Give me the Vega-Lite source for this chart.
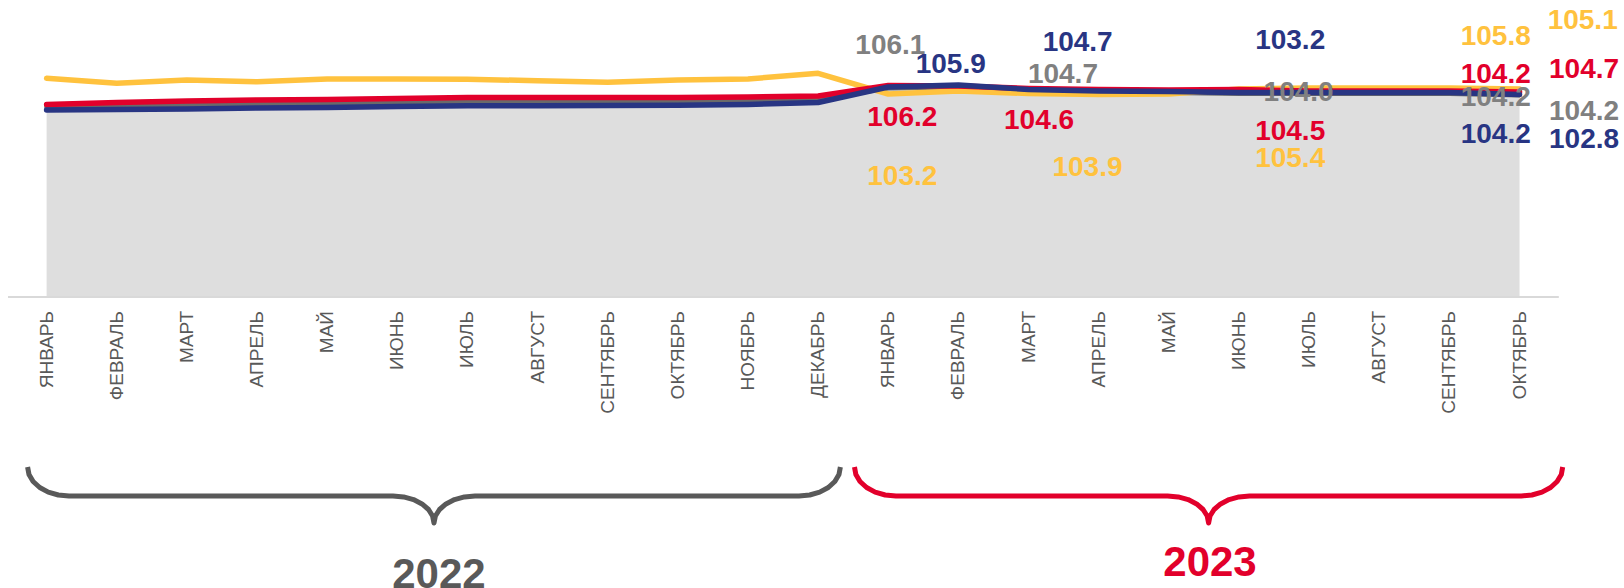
{
  "$schema": "https://vega.github.io/schema/vega-lite/v6.json",
  "width": 1624,
  "height": 588,
  "autosize": {"type": "none"},
  "padding": 0,
  "background": "white",
  "config": {"view": {"stroke": null}},
  "datasets": {
    "months": [
      {"i": 0, "month": "ЯНВАРЬ", "yellow": 109.35, "red": 96.25, "blue": 93.5, "gray": 95},
      {"i": 1, "month": "ФЕВРАЛЬ", "yellow": 106.85, "red": 97.25, "blue": 93.75, "gray": 95.5},
      {"i": 2, "month": "МАРТ", "yellow": 108.5, "red": 98, "blue": 94, "gray": 96},
      {"i": 3, "month": "АПРЕЛЬ", "yellow": 107.65, "red": 98.5, "blue": 94.5, "gray": 96.5},
      {"i": 4, "month": "МАЙ", "yellow": 109, "red": 98.75, "blue": 94.75, "gray": 96.75},
      {"i": 5, "month": "ИЮНЬ", "yellow": 109, "red": 99.25, "blue": 95.25, "gray": 97.25},
      {"i": 6, "month": "ИЮЛЬ", "yellow": 108.85, "red": 99.75, "blue": 95.65, "gray": 97.65},
      {"i": 7, "month": "АВГУСТ", "yellow": 108.15, "red": 99.75, "blue": 95.65, "gray": 97.65},
      {"i": 8, "month": "СЕНТЯБРЬ", "yellow": 107.35, "red": 99.75, "blue": 95.75, "gray": 97.75},
      {"i": 9, "month": "ОКТЯБРЬ", "yellow": 108.5, "red": 99.75, "blue": 95.85, "gray": 97.8},
      {"i": 10, "month": "НОЯБРЬ", "yellow": 109, "red": 100, "blue": 96.25, "gray": 98},
      {"i": 11, "month": "ДЕКАБРЬ", "yellow": 111.85, "red": 100.5, "blue": 97.25, "gray": 99},
      {"i": 12, "month": "ЯНВАРЬ", "yellow": 101.5, "red": 105.75, "blue": 105, "gray": 104.5},
      {"i": 13, "month": "ФЕВРАЛЬ", "yellow": 103, "red": 105.5, "blue": 106, "gray": 105},
      {"i": 14, "month": "МАРТ", "yellow": 101.75, "red": 104.25, "blue": 103.75, "gray": 103.25},
      {"i": 15, "month": "АПРЕЛЬ", "yellow": 101.25, "red": 103.75, "blue": 103, "gray": 102.5},
      {"i": 16, "month": "МАЙ", "yellow": 101.5, "red": 103.5, "blue": 102.75, "gray": 102.25},
      {"i": 17, "month": "ИЮНЬ", "yellow": 104, "red": 103.75, "blue": 102.25, "gray": 101.75},
      {"i": 18, "month": "ИЮЛЬ", "yellow": 104.5, "red": 103, "blue": 102.25, "gray": 101.75},
      {"i": 19, "month": "АВГУСТ", "yellow": 104.5, "red": 103, "blue": 102.25, "gray": 101.75},
      {"i": 20, "month": "СЕНТЯБРЬ", "yellow": 104.5, "red": 103, "blue": 102.25, "gray": 101.75},
      {"i": 21, "month": "ОКТЯБРЬ", "yellow": 104, "red": 102.5, "blue": 101.25, "gray": 101}
    ],
    "labels": [
      {"series": "gray", "x": 12.03, "y": 125.75, "label": "106.1"},
      {"series": "gray", "x": 14.49, "y": 111, "label": "104.7"},
      {"series": "gray", "x": 17.85, "y": 102.15, "label": "104.0"},
      {"series": "gray", "x": 20.66, "y": 99.35, "label": "104.2"},
      {"series": "gray", "x": 21.92, "y": 92.65, "label": "104.2"},
      {"series": "yellow", "x": 12.2, "y": 60.15, "label": "103.2"},
      {"series": "yellow", "x": 14.84, "y": 64.35, "label": "103.9"},
      {"series": "yellow", "x": 17.73, "y": 68.85, "label": "105.4"},
      {"series": "yellow", "x": 20.66, "y": 130.15, "label": "105.8"},
      {"series": "yellow", "x": 21.9, "y": 138.15, "label": "105.1"},
      {"series": "red", "x": 12.2, "y": 89.35, "label": "106.2"},
      {"series": "red", "x": 14.15, "y": 88.25, "label": "104.6"},
      {"series": "red", "x": 17.73, "y": 82.65, "label": "104.5"},
      {"series": "red", "x": 20.66, "y": 111, "label": "104.2"},
      {"series": "red", "x": 21.92, "y": 113.5, "label": "104.7"},
      {"series": "blue", "x": 12.89, "y": 116, "label": "105.9"},
      {"series": "blue", "x": 14.7, "y": 127, "label": "104.7"},
      {"series": "blue", "x": 17.73, "y": 128.15, "label": "103.2"},
      {"series": "blue", "x": 20.66, "y": 81.25, "label": "104.2"},
      {"series": "blue", "x": 21.92, "y": 78.5, "label": "102.8"}
    ],
    "braces": [
      {"year": "2022", "k": 1, "x": -0.271, "y": -85},
      {"year": "2022", "k": 2, "x": -0.251, "y": -88.75},
      {"year": "2022", "k": 3, "x": -0.192, "y": -92.25},
      {"year": "2022", "k": 4, "x": -0.098, "y": -95.25},
      {"year": "2022", "k": 5, "x": 0.024, "y": -97.55},
      {"year": "2022", "k": 6, "x": 0.167, "y": -99},
      {"year": "2022", "k": 7, "x": 0.319, "y": -99.5},
      {"year": "2022", "k": 8, "x": 4.939, "y": -99.5},
      {"year": "2022", "k": 9, "x": 5.09, "y": -99.95},
      {"year": "2022", "k": 10, "x": 5.231, "y": -101.3},
      {"year": "2022", "k": 11, "x": 5.352, "y": -103.45},
      {"year": "2022", "k": 12, "x": 5.445, "y": -106.25},
      {"year": "2022", "k": 13, "x": 5.503, "y": -109.5},
      {"year": "2022", "k": 14, "x": 5.523, "y": -113},
      {"year": "2022", "k": 15, "x": 5.543, "y": -109.5},
      {"year": "2022", "k": 16, "x": 5.602, "y": -106.25},
      {"year": "2022", "k": 17, "x": 5.694, "y": -103.45},
      {"year": "2022", "k": 18, "x": 5.816, "y": -101.3},
      {"year": "2022", "k": 19, "x": 5.957, "y": -99.95},
      {"year": "2022", "k": 20, "x": 6.108, "y": -99.5},
      {"year": "2022", "k": 21, "x": 10.727, "y": -99.5},
      {"year": "2022", "k": 22, "x": 10.88, "y": -99},
      {"year": "2022", "k": 23, "x": 11.022, "y": -97.55},
      {"year": "2022", "k": 24, "x": 11.145, "y": -95.25},
      {"year": "2022", "k": 25, "x": 11.238, "y": -92.25},
      {"year": "2022", "k": 26, "x": 11.297, "y": -88.75},
      {"year": "2022", "k": 27, "x": 11.317, "y": -85},
      {"year": "2023", "k": 1, "x": 11.518, "y": -85},
      {"year": "2023", "k": 2, "x": 11.538, "y": -88.75},
      {"year": "2023", "k": 3, "x": 11.597, "y": -92.25},
      {"year": "2023", "k": 4, "x": 11.691, "y": -95.25},
      {"year": "2023", "k": 5, "x": 11.813, "y": -97.55},
      {"year": "2023", "k": 6, "x": 11.956, "y": -99},
      {"year": "2023", "k": 7, "x": 12.109, "y": -99.5},
      {"year": "2023", "k": 8, "x": 15.982, "y": -99.5},
      {"year": "2023", "k": 9, "x": 16.134, "y": -99.95},
      {"year": "2023", "k": 10, "x": 16.275, "y": -101.3},
      {"year": "2023", "k": 11, "x": 16.396, "y": -103.45},
      {"year": "2023", "k": 12, "x": 16.488, "y": -106.25},
      {"year": "2023", "k": 13, "x": 16.547, "y": -109.5},
      {"year": "2023", "k": 14, "x": 16.567, "y": -113},
      {"year": "2023", "k": 15, "x": 16.587, "y": -109.5},
      {"year": "2023", "k": 16, "x": 16.645, "y": -106.25},
      {"year": "2023", "k": 17, "x": 16.738, "y": -103.45},
      {"year": "2023", "k": 18, "x": 16.859, "y": -101.3},
      {"year": "2023", "k": 19, "x": 17.0, "y": -99.95},
      {"year": "2023", "k": 20, "x": 17.151, "y": -99.5},
      {"year": "2023", "k": 21, "x": 21.025, "y": -99.5},
      {"year": "2023", "k": 22, "x": 21.177, "y": -99},
      {"year": "2023", "k": 23, "x": 21.32, "y": -97.55},
      {"year": "2023", "k": 24, "x": 21.443, "y": -95.25},
      {"year": "2023", "k": 25, "x": 21.536, "y": -92.25},
      {"year": "2023", "k": 26, "x": 21.596, "y": -88.75},
      {"year": "2023", "k": 27, "x": 21.615, "y": -85}
    ],
    "years": [
      {"year": "2022", "x": 5.594, "y": -138.75},
      {"year": "2023", "x": 16.587, "y": -133}
    ],
    "axisline": [
      {"x1": -0.55, "x2": 21.56, "y": 0}
    ]
  },
  "resolve": {"scale": {"color": "independent"}},
  "layer": [
    {
      "data": {"name": "months"},
      "mark": {"type": "area", "color": "#dedede"},
      "encoding": {
        "x": {"field": "i", "type": "quantitative", "scale": {"domain": [-0.6644, 22.4893], "nice": false, "zero": false}, "axis": null},
        "y": {"field": "gray", "type": "quantitative", "scale": {"domain": [-145.5, 148.5], "nice": false, "zero": false}, "axis": null}
      }
    },
    {
      "data": {"name": "axisline"},
      "mark": {"type": "rule", "color": "#d9d9d9", "strokeWidth": 2},
      "encoding": {
        "x": {"field": "x1", "type": "quantitative"},
        "x2": {"field": "x2"},
        "y": {"field": "y", "type": "quantitative"}
      }
    },
    {
      "data": {"name": "months"},
      "mark": {"type": "line", "color": "#6a6a6a", "strokeWidth": 5, "strokeCap": "round", "strokeJoin": "round"},
      "encoding": {
        "x": {"field": "i", "type": "quantitative"},
        "y": {"field": "gray", "type": "quantitative"}
      }
    },
    {
      "data": {"name": "months"},
      "mark": {"type": "line", "color": "#ffc23e", "strokeWidth": 5.5, "strokeCap": "round", "strokeJoin": "round"},
      "encoding": {
        "x": {"field": "i", "type": "quantitative"},
        "y": {"field": "yellow", "type": "quantitative"}
      }
    },
    {
      "data": {"name": "months"},
      "mark": {"type": "line", "color": "#e2002b", "strokeWidth": 5.5, "strokeCap": "round", "strokeJoin": "round"},
      "encoding": {
        "x": {"field": "i", "type": "quantitative"},
        "y": {"field": "red", "type": "quantitative"}
      }
    },
    {
      "data": {"name": "months"},
      "mark": {"type": "line", "color": "#283583", "strokeWidth": 5.5, "strokeCap": "round", "strokeJoin": "round"},
      "encoding": {
        "x": {"field": "i", "type": "quantitative"},
        "y": {"field": "blue", "type": "quantitative"}
      }
    },
    {
      "data": {"name": "months"},
      "mark": {"type": "text", "font": "Liberation Sans", "fontSize": 19, "color": "#595959", "angle": 270, "align": "right", "baseline": "middle"},
      "encoding": {
        "x": {"field": "i", "type": "quantitative"},
        "y": {"datum": -7, "type": "quantitative"},
        "text": {"field": "month"}
      }
    },
    {
      "data": {"name": "braces"},
      "mark": {"type": "line", "strokeWidth": 5, "strokeJoin": "round", "strokeCap": "butt"},
      "encoding": {
        "x": {"field": "x", "type": "quantitative"},
        "y": {"field": "y", "type": "quantitative"},
        "order": {"field": "k", "type": "quantitative"},
        "color": {"field": "year", "type": "nominal", "scale": {"domain": ["2022", "2023"], "range": ["#595959", "#e2002b"]}, "legend": null}
      }
    },
    {
      "data": {"name": "years"},
      "mark": {"type": "text", "font": "Liberation Sans", "fontSize": 42, "fontWeight": "bold", "align": "center", "baseline": "middle"},
      "encoding": {
        "x": {"field": "x", "type": "quantitative"},
        "y": {"field": "y", "type": "quantitative"},
        "text": {"field": "year"},
        "color": {"field": "year", "type": "nominal", "scale": {"domain": ["2022", "2023"], "range": ["#595959", "#e2002b"]}, "legend": null}
      }
    },
    {
      "data": {"name": "labels"},
      "mark": {"type": "text", "font": "Liberation Sans", "fontSize": 28, "fontWeight": "bold", "align": "center", "baseline": "middle"},
      "encoding": {
        "x": {"field": "x", "type": "quantitative"},
        "y": {"field": "y", "type": "quantitative"},
        "text": {"field": "label"},
        "color": {"field": "series", "type": "nominal", "scale": {"domain": ["gray", "yellow", "red", "blue"], "range": ["#808080", "#ffc23e", "#e2002b", "#283583"]}, "legend": null}
      }
    }
  ]
}
